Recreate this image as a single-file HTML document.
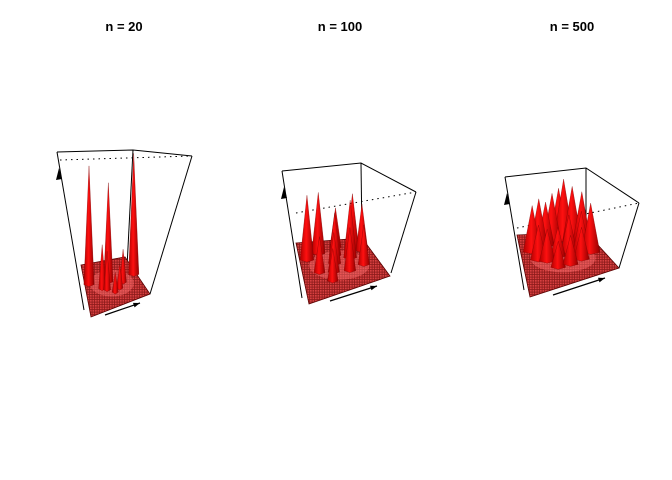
<!DOCTYPE html>
<html><head><meta charset="utf-8"><style>
html,body{margin:0;padding:0;background:#fff;}
svg{display:block;font-family:"Liberation Sans",sans-serif;}
</style></head><body>
<svg id="c" width="672" height="480" viewBox="0 0 672 480">
<defs>
<pattern id="grid" width="2.5" height="2.5" patternUnits="userSpaceOnUse">
<rect width="2.5" height="2.5" fill="#8a1a1a"/><rect width="1.7" height="1.7" fill="#d84040"/>
</pattern>
<linearGradient id="spk" x1="0" x2="1" y1="0" y2="0">
<stop offset="0" stop-color="#b00000"/><stop offset="0.45" stop-color="#ff1010"/><stop offset="1" stop-color="#900000"/>
</linearGradient>
</defs>
</svg>
<script>
// panel titles
const titles = ["n = 20", "n = 100", "n = 500"];
// spike data per panel: floor position (u left->right, v back->front) and height (fraction of box height)
const p1U = [0.08, 0.95, 0.45, 0.30, 0.38, 0.70, 0.60, 0.50];
const p1V = [0.40, 0.45, 0.45, 0.55, 0.60, 0.55, 0.65, 0.70];
const p1H = [1.08, 1.10, 0.90, 0.40, 0.35, 0.30, 0.22, 0.18];
const p2U = [0.10, 0.28, 0.55, 0.78, 0.88, 0.45, 0.68, 0.22, 0.40, 0.60, 0.35, 0.80, 0.50];
const p2V = [0.30, 0.22, 0.15, 0.20, 0.30, 0.45, 0.40, 0.55, 0.60, 0.65, 0.75, 0.60, 0.30];
const p2H = [0.90, 0.85, 0.55, 0.75, 0.65, 0.70, 0.80, 0.50, 0.55, 0.60, 0.45, 0.55, 0.60];
const p3U = [0.15, 0.25, 0.35, 0.45, 0.55, 0.62, 0.72, 0.82, 0.20, 0.30, 0.45, 0.60, 0.75, 0.85, 0.40, 0.55, 0.70];
const p3V = [0.30, 0.25, 0.22, 0.18, 0.15, 0.15, 0.20, 0.28, 0.45, 0.50, 0.45, 0.42, 0.45, 0.50, 0.65, 0.65, 0.60];
const p3H = [0.80, 0.85, 0.75, 0.85, 0.90, 1.05, 0.95, 0.90, 0.60, 0.55, 0.50, 0.65, 0.70, 0.85, 0.45, 0.50, 0.55];

const panels = [
 {cx:124, U:p1U,V:p1V,H:p1H, A:[81,265],B:[125,257],C:[150,294],D:[91,317], hs:110, w:4.5,
  top:[[57,152],[133,150],[192,156]], dot:[[60,160],[192,156]], left:[[57,152],[84,310]], back:[[133,150],[127,267]], right:[[192,156],[150,294]], arrow:[[105,315],[140,303]]},
 {cx:340, U:p2U,V:p2V,H:p2H, A:[296,243],B:[362,238],C:[390,276],D:[309,304], hs:72, w:6.5,
  top:[[282,171],[361,163],[416,192]], dot:[[296,213],[416,192]], left:[[282,171],[302,298]], back:[[361,163],[362,238]], right:[[416,192],[391,273]], arrow:[[330,301],[377,286]]},
 {cx:572, U:p3U,V:p3V,H:p3H, A:[517,235],B:[586,232],C:[619,268],D:[530,297], hs:58, w:9,
  top:[[505,177],[586,168],[639,203]], dot:[[517,228],[639,203]], left:[[505,177],[524,290]], back:[[586,168],[586,232]], right:[[639,203],[619,268]], arrow:[[553,295],[605,278]]}
];
const NS="http://www.w3.org/2000/svg";
const svg=document.getElementById('c');
function mk(t,a,parent){const e=document.createElementNS(NS,t);for(const k in a)e.setAttribute(k,a[k]);(parent||svg).appendChild(e);return e;}
function proj(p,u,v){
 const x=(1-u)*(1-v)*p.A[0]+u*(1-v)*p.B[0]+u*v*p.C[0]+(1-u)*v*p.D[0];
 const y=(1-u)*(1-v)*p.A[1]+u*(1-v)*p.B[1]+u*v*p.C[1]+(1-u)*v*p.D[1];
 return [x,y];}
function ln(a,b,g,extra){return mk('line',Object.assign({x1:a[0],y1:a[1],x2:b[0],y2:b[1],stroke:'#000','stroke-width':1},extra||{}),g);}

panels.forEach((p,i)=>{
 const g=mk('g',{});
 
 
 const t=mk('text',{x:p.cx,y:31,'text-anchor':'middle','font-size':13,'font-weight':'bold'},g);
 t.textContent=titles[i];
 
 
 const d=ln(p.dot[0],p.dot[1],g,{'stroke-dasharray':'1.5,4'});
 
 
 const bk=ln(p.back[0],p.back[1],g);
 
 
 const fl=mk('polygon',{points:[p.A,p.B,p.C,p.D].map(q=>q.join(',')).join(' '),fill:'url(#grid)',stroke:'#5a0000','stroke-width':0.8},g);
 
 
 const c=proj(p,0.5,0.5);
 const ring=mk('ellipse',{cx:c[0],cy:c[1],rx:(p.C[0]-p.A[0])*0.32,ry:(p.D[1]-p.B[1])*0.22,fill:'#ff7070',opacity:0.45},g);
 
 
 const idx=p.U.map((_,k)=>k).sort((a,b)=>p.V[a]-p.V[b]);
 idx.forEach(k=>{
  const b=proj(p,p.U[k],p.V[k]);
  const top=[b[0],b[1]-p.H[k]*p.hs];
  const w=p.w*(0.6+p.H[k]*0.5);
  const s=mk('polygon',{points:`${b[0]-w},${b[1]} ${top[0]},${top[1]} ${b[0]+w},${b[1]} ${b[0]},${b[1]+2}`,fill:'url(#spk)',stroke:'#700','stroke-width':0.3},g);
  
  
 });
 const tp=mk('polyline',{points:p.top.map(q=>q.join(',')).join(' '),fill:'none',stroke:'#000','stroke-width':1},g);
 
 
 const rt=ln(p.right[0],p.right[1],g);
 
 
 const lf=ln(p.left[0],p.left[1],g);
 
 
 const ar=ln(p.arrow[0],p.arrow[1],g,{'stroke-width':1.2});
 
 
 const a=p.arrow[1],ang=Math.atan2(a[1]-p.arrow[0][1],a[0]-p.arrow[0][0]);
 const h=mk('polygon',{points:`${a[0]},${a[1]} ${a[0]-7*Math.cos(ang-0.35)},${a[1]-7*Math.sin(ang-0.35)} ${a[0]-7*Math.cos(ang+0.35)},${a[1]-7*Math.sin(ang+0.35)}`,fill:'#000'},g);
 
 
 const l0=p.left[0];
 const lh=mk('polygon',{points:`${l0[0]+2},${l0[1]+16} ${l0[0]-1},${l0[1]+28} ${l0[0]+5},${l0[1]+27}`,fill:'#000'},g);
 
 
});
</script>
</body></html>
